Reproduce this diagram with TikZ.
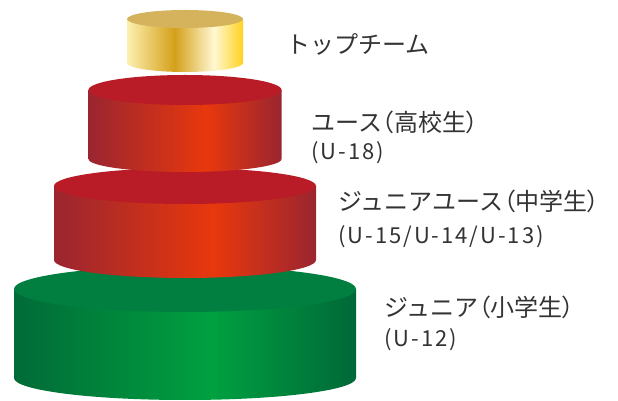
\documentclass[tikz,border=0pt]{standalone}
\usepackage{fontspec}
\newfontfamily\jp{Noto Sans CJK JP}
\newfontfamily\jpp[RawFeature=+palt]{Noto Sans CJK JP}
\newfontfamily\jpsub[LetterSpace=9]{Noto Sans CJK JP}
\newcommand\lpar{{\jpp （}}
\newcommand\rpar{{\jpp ）}}
\definecolor{gl1}{HTML}{FDF0B0}
\definecolor{gdk}{HTML}{D4A01A}
\definecolor{gl2}{HTML}{FFF8D2}
\definecolor{grt}{HTML}{FFD21F}
\definecolor{gtop}{HTML}{D5B35C}
\definecolor{rdk}{HTML}{9A2530}
\definecolor{rbr}{HTML}{E8380D}
\definecolor{rtop}{HTML}{B91C26}
\definecolor{ndk}{HTML}{006B38}
\definecolor{nbr}{HTML}{00A040}
\definecolor{ndr}{HTML}{006838}
\definecolor{ntop}{HTML}{007F40}
\definecolor{txt}{HTML}{333333}
\pgfdeclarehorizontalshading{goldside}{100bp}{color(0bp)=(gl1); color(25bp)=(gl1); color(45.5bp)=(gdk); color(62.5bp)=(gl2); color(75bp)=(grt); color(100bp)=(grt)}
\pgfdeclarehorizontalshading{redside}{100bp}{color(0bp)=(rdk); color(25bp)=(rdk); color(55.5bp)=(rbr); color(75bp)=(rdk); color(100bp)=(rdk)}
\pgfdeclarehorizontalshading{greenside}{100bp}{color(0bp)=(ndk); color(25bp)=(ndk); color(54bp)=(nbr); color(75bp)=(ndr); color(100bp)=(ndr)}
% #1 cx, #2 top y, #3 bottom y, #4 rx, #5 ry top, #6 ry bottom, #7 shading, #8 top colour
\newcommand\mycyl[8]{%
  \shade[shading=#7] (#1-#4,#2) -- (#1-#4,#3)
    arc[start angle=180,end angle=360,x radius=#4pt,y radius=#6pt]
    -- (#1+#4,#2) -- cycle;
  \fill[#8] (#1,#2) ellipse[x radius=#4pt,y radius=#5pt];
}
\tikzset{
  mainlbl/.style={anchor=west,inner sep=0pt,text=txt,font=\jp\fontsize{24}{28}\selectfont},
  sublbl/.style={anchor=west,inner sep=0pt,text=txt,font=\jpsub\fontsize{22}{26}\selectfont}
}
\begin{document}
\begin{tikzpicture}[x=1pt,y=1pt]
\useasboundingbox (0,0) rectangle (618,401);
\mycyl{185}{112}{23}{171}{23}{22}{greenside}{ntop}
\mycyl{185}{215}{141}{131}{18}{18}{redside}{rtop}
\mycyl{185}{311}{242}{96.5}{15}{13}{redside}{rtop}
\mycyl{185}{382}{338}{58}{9}{9}{goldside}{gtop}
\node[mainlbl] (top) at (286,357) {トップチーム};
\node[mainlbl] (youth) at (311,279) {ユース\lpar 高校生\rpar};
\node[sublbl] (youthu) at (311,248) {(U-18)};
\node[mainlbl] (jy) at (338,200) {ジュニアユース\lpar 中学生\rpar};
\node[sublbl] (jyu) at (338,164) {(U-15/U-14/U-13)};
\node[mainlbl] (jr) at (384,94) {ジュニア\lpar 小学生\rpar};
\node[sublbl] (jru) at (384,61) {(U-12)};
\end{tikzpicture}
\end{document}
